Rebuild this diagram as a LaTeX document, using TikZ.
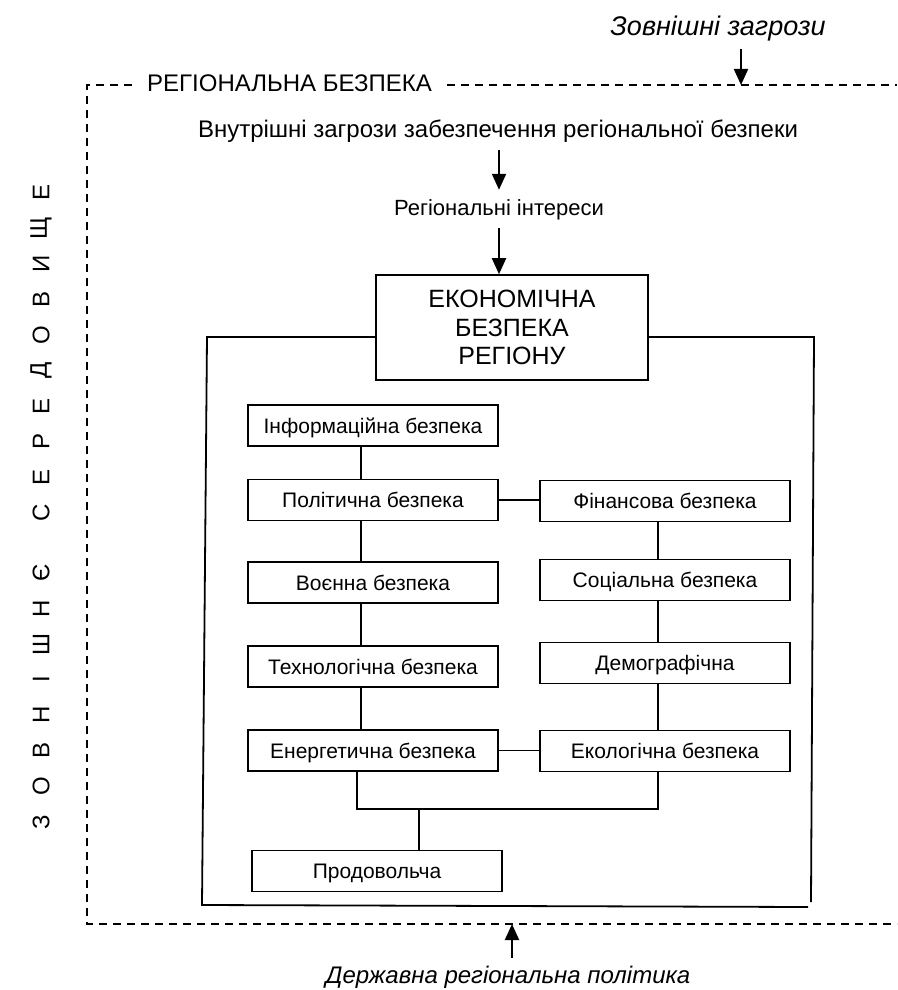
\documentclass[tikz,border=0pt]{standalone}
\usepackage{fontspec}
\setmainfont{Liberation Sans}
\usetikzlibrary{arrows.meta,positioning}

\tikzset{
  secbox/.style={draw, line width=1.6pt, minimum width=250pt, minimum height=41pt,
    inner sep=0pt, text height=15pt, text depth=0pt, font=\fontsize{21}{25}\selectfont},
  econbox/.style={draw, line width=1.6pt, minimum width=272pt, minimum height=105pt,
    inner sep=0pt, align=center, font=\fontsize{25}{28.5}\selectfont},
  plain/.style={inner xsep=0pt, inner ysep=8pt, text height=17pt, text depth=5pt,
    font=\fontsize{24}{29}\selectfont},
  flow/.style={line width=2pt, -{Triangle[length=16pt, width=14pt]}},
  link/.style={line width=1.4pt},
  outline/.style={line width=1.8pt},
  dashline/.style={line width=1.5pt, dash pattern=on 8pt off 6pt},
  envletter/.style={rotate=90, inner sep=0pt, font=\fontsize{24}{28}\selectfont}
}

\begin{document}
\begin{tikzpicture}[x=1pt, y=-1pt]
  \useasboundingbox (0,0) rectangle (897,990);

  % outer texts
  \node[plain, font=\fontsize{27}{32}\selectfont\itshape] (ext) at (718,30) {Зовнішні загрози};
  \node[plain, anchor=west, inner xsep=15pt] (reg) at (132,85) {РЕГІОНАЛЬНА БЕЗПЕКА};
  \node[plain] (inner) at (498,131) {Внутрішні загрози забезпечення регіональної безпеки};
  \node[plain, font=\fontsize{22}{27}\selectfont] (interests) at (499,209) {Регіональні інтереси};
  \node[plain, font=\fontsize{24}{29}\selectfont\itshape] (policy) at (508,977) {Державна регіональна політика};

  % centre box
  \node[econbox] (econ) at (512,327.5) {ЕКОНОМІЧНА\\БЕЗПЕКА\\РЕГІОНУ};

  % left column
  \node[secbox] (info)   at (373,425.5) {Інформаційна безпека};
  \node[secbox] (pol)    at (373,500)   {Політична безпека};
  \node[secbox] (voen)   at (373,582.5) {Воєнна безпека};
  \node[secbox] (tech)   at (373,666.5) {Технологічна безпека};
  \node[secbox] (energy) at (373,750.5) {Енергетична безпека};
  \node[secbox] (prod)   at (377,871)   {Продовольча};

  % right column
  \node[secbox] (fin) at (665,501) {Фінансова безпека};
  \node[secbox] (soc) at (665,580) {Соціальна безпека};
  \node[secbox] (dem) at (665,663) {Демографічна};
  \node[secbox] (eco) at (665,751) {Екологічна безпека};

  % side caption
  \foreach \ch [count=\i from 0] in {З,О,В,Н,І,Ш,Н,Є}
    \node[envletter] (z\i) at (41,822-35.6*\i) {\ch};
  \foreach \ch [count=\i from 0] in {С,Е,Р,Е,Д,О,В,И,Щ,Е}
    \node[envletter] (s\i) at (41,513-35.6*\i) {\ch};

  % dashed border of the region
  \coordinate (otl) at (87,85);
  \coordinate (obl) at (87,924);
  \coordinate (obr) at (897,924);
  \coordinate (otr) at (897,85);
  \draw[dashline] (reg.west) -- (otl) -- (obl) -- (obr);
  \draw[dashline] (reg.east) -- (otr);

  % frame round the economic block
  \coordinate (ftl) at (207,337);
  \coordinate (fbl) at (202,905);
  \coordinate (ftr) at (814,337);
  \coordinate (fbr) at (811,902);
  \coordinate (fbe) at (808,907);
  \draw[outline] (econ.west |- ftl) -- (ftl) -- (fbl) -- (fbe);
  \draw[outline] (econ.east |- ftr) -- (ftr) -- (fbr);

  % arrows
  \coordinate (extin) at (741,85);
  \coordinate (polin) at (512,924);
  \draw[flow] (ext.south -| extin) -- (extin);
  \draw[flow] (inner.south -| interests) -- (interests.north);
  \draw[flow] (interests.south) -- (interests.south |- econ.north);
  \draw[flow] (policy.north -| polin) -- (polin);

  % links between the boxes
  \coordinate (lc) at (361,0);
  \coordinate (rc) at (658,0);
  \foreach \a/\b in {info/pol, pol/voen, voen/tech, tech/energy}
    \draw[link] (\a.south -| lc) -- (\b.north -| lc);
  \foreach \a/\b in {fin/soc, soc/dem, dem/eco}
    \draw[link] (\a.south -| rc) -- (\b.north -| rc);
  \draw[link] (pol.east) -- (fin.west |- pol.east);
  \draw[link] (energy.east) -- (eco.west |- energy.east);

  \coordinate (jl) at (357,809);
  \coordinate (jr) at (658,809);
  \coordinate (jn) at (419,809);
  \draw[link] (energy.south -| jl) -- (jl) -- (jr) -- (eco.south -| jr);
  \draw[link] (jn) -- (prod.north -| jn);
\end{tikzpicture}
\end{document}
